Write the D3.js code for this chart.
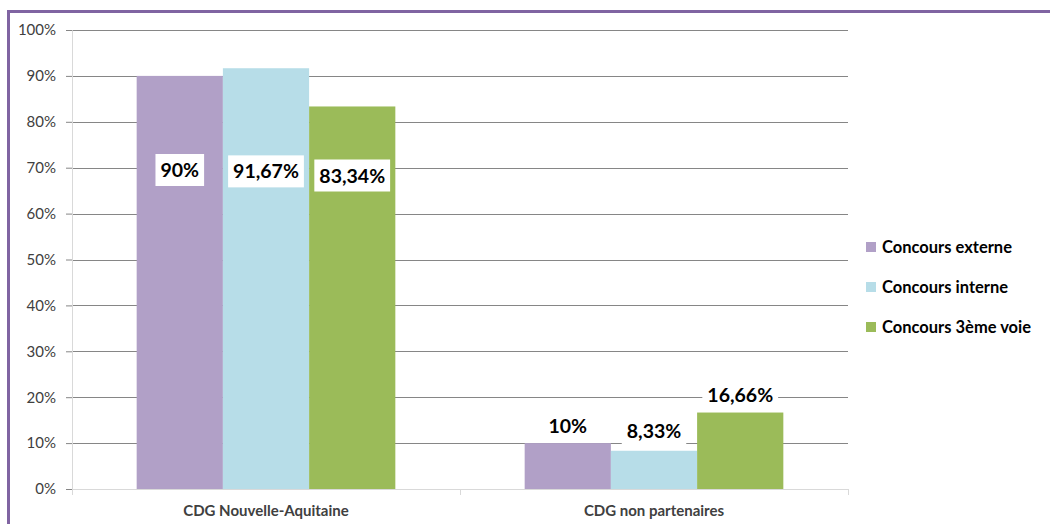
<!DOCTYPE html>
<html>
<head>
<meta charset="utf-8">
<script src="https://cdn.jsdelivr.net/npm/d3@7"></script>
<style>
  body { margin: 0; background: #fff; }
  text { font-family: Lato, "Liberation Sans", sans-serif; }
  .tick text { font-size: 15px; fill: #404040; }
</style>
</head>
<body>
<div id="chart"></div>
<script>
var categories = ["CDG Nouvelle-Aquitaine", "CDG non partenaires"];
var seriesNames = ["Concours externe", "Concours interne", "Concours 3ème voie"];
var seriesColors = ["#b1a0c7", "#b7dde8", "#9bbb59"];
var values = [
  [90, 91.67, 83.34],
  [10, 8.33, 16.66]
];
var labelText = [
  ["90%", "91,67%", "83,34%"],
  ["10%", "8,33%", "16,66%"]
];
// where each label sits, in chart value units
var labelAt = [
  [69.5, 69.2, 68.3],
  [13.7, 12.6, 20.5]
];
var yTicks = [0, 10, 20, 30, 40, 50, 60, 70, 80, 90, 100];

(function mainfigure() {
  var W = 1050, H = 524;
  var margin = { top: 30, left: 72, right: 202, bottom: 35 };
  var width = W - margin.left - margin.right,
    height = H - margin.top - margin.bottom;

  var svg = d3.select("#chart").append("svg")
    .attr("width", W)
    .attr("height", H);

  // outer frame
  svg.append("path")
    .attr("d", "M8.5," + H + "V11.5H" + W)
    .attr("fill", "none")
    .attr("stroke", "#8064a2")
    .attr("stroke-width", 3);

  var x0 = d3.scaleBand().domain(categories).range([0, width]);
  var x1 = d3.scaleBand().domain(seriesNames)
    .range([0, x0.bandwidth()])
    .paddingOuter(0.75);
  var y = d3.scaleLinear().domain([0, 100]).range([height, 0]);

  var g = svg.append("g")
    .attr("transform", "translate(" + margin.left + "," + margin.top + ")");

  // gridlines
  g.selectAll(".grid")
    .data(yTicks.filter(function(d) { return d > 0; }))
    .enter().append("line")
    .attr("x1", 0).attr("x2", width)
    .attr("y1", function(d) { return Math.round(y(d)) + 0.5; })
    .attr("y2", function(d) { return Math.round(y(d)) + 0.5; })
    .attr("stroke", "#868686");

  // y axis
  var yAxis = g.append("g")
    .call(d3.axisLeft(y).tickValues(yTicks).tickSize(6).tickPadding(10)
      .tickFormat(function(d) { return d + "%"; }));
  yAxis.select(".domain").attr("stroke", "#d9d9d9");
  yAxis.selectAll(".tick line").attr("stroke", "#868686");

  // bars
  var groups = g.selectAll(".group")
    .data(categories)
    .enter().append("g")
    .attr("transform", function(d) { return "translate(" + x0(d) + ",0)"; });

  groups.selectAll("rect")
    .data(function(d, i) {
      return seriesNames.map(function(s, j) {
        return { s: s, v: values[i][j], c: seriesColors[j] };
      });
    })
    .enter().append("rect")
    .attr("x", function(d) { return x1(d.s); })
    .attr("width", x1.bandwidth())
    .attr("y", function(d) { return y(d.v); })
    .attr("height", function(d) { return height - y(d.v); })
    .attr("fill", function(d) { return d.c; });

  // x axis
  var xAxis = g.append("g")
    .attr("transform", "translate(0," + height + ")")
    .call(d3.axisBottom(x0).tickSize(0).tickPadding(16));
  xAxis.select(".domain").attr("stroke", "#d9d9d9");
  xAxis.selectAll(".tick text")
    .attr("font-size", "17.5px")
    .attr("font-weight", "bold")
    .attr("fill", "#000");
  // category separators
  g.selectAll(".sep")
    .data([0, width / 2, width])
    .enter().append("line")
    .attr("x1", function(d) { return Math.round(d) + 0.5; })
    .attr("x2", function(d) { return Math.round(d) + 0.5; })
    .attr("y1", height).attr("y2", height + 6)
    .attr("stroke", "#d9d9d9");

  // data labels
  groups.each(function(cat, i) {
    var gg = d3.select(this);
    seriesNames.forEach(function(s, j) {
      var cx = x1(s) + x1.bandwidth() / 2,
        cy = y(labelAt[i][j]);
      var lab = gg.append("g").attr("transform", "translate(" + cx + "," + cy + ")");
      var t = lab.append("text")
        .attr("text-anchor", "middle")
        .attr("dy", "0.36em")
        .attr("font-size", "19.5px")
        .attr("font-weight", "bold")
        .attr("fill", "#000")
        .text(labelText[i][j]);
      var bb = t.node().getBBox();
      lab.insert("rect", "text")
        .attr("x", bb.x - 5).attr("y", -16)
        .attr("width", bb.width + 10).attr("height", 32)
        .attr("fill", "#fff");
    });
  });

  // legend
  var legend = svg.append("g")
    .attr("transform", "translate(866,247)");
  var item = legend.selectAll(".item")
    .data(seriesNames)
    .enter().append("g")
    .attr("transform", function(d, i) { return "translate(0," + i * 40 + ")"; });
  item.append("rect")
    .attr("x", 0).attr("y", -5)
    .attr("width", 10).attr("height", 10)
    .attr("fill", function(d, i) { return seriesColors[i]; });
  item.append("text")
    .attr("x", 16).attr("dy", "0.35em")
    .attr("font-size", "16.5px")
    .attr("font-weight", "bold")
    .attr("fill", "#000")
    .text(function(d) { return d; });
})();
</script>
</body>
</html>
